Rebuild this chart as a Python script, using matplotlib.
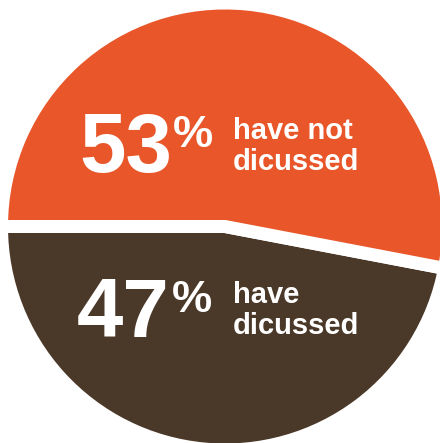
import matplotlib
matplotlib.use("Agg")
import matplotlib.pyplot as plt

# Share of respondents
labels = ["have\ndicussed", "have not\ndicussed"]
values = [47, 53]
colors = ["#4A3828", "#E8562A"]

W, H = 440, 443
fig = plt.figure(figsize=(W / 100, H / 100), dpi=100)
ax = fig.add_axes([0, 0, 1, 1])
ax.set_xlim(0, W)
ax.set_ylim(0, H)
ax.axis("off")

cx, cy = 225, H - 226.5
gap_px = 13
radius = 217 + gap_px / 2

ax.pie(values, colors=colors, startangle=180, counterclock=True,
       center=(cx, cy), radius=radius, frame=True,
       wedgeprops=dict(edgecolor="white", linewidth=gap_px * 72 / 100))
ax.set_xlim(0, W)
ax.set_ylim(0, H)
ax.axis("off")

font = "Liberation Sans"

def y(v):
    return H - v

# Big percentage, superscript % sign and two-line caption for each slice
positions = [
    # (number x, number baseline, % x, % baseline, caption x, first line baseline)
    (77, 337, 172, 312, 233, 303),
    (79, 172, 173, 147, 233, 139),
]
for val, lab, (nx, nb, px, pb, tx, tb) in zip(values, labels, positions):
    ax.text(nx, y(nb), f"{val}", color="white", fontsize=60, fontweight="bold",
            family=font, ha="left", va="baseline")
    ax.text(px, y(pb), "%", color="white", fontsize=32.5, fontweight="bold",
            family=font, ha="left", va="baseline")
    for i, line in enumerate(lab.split("\n")):
        ax.text(tx, y(tb + 31 * i), line, color="white", fontsize=21,
                fontweight="bold", family=font, ha="left", va="baseline")

fig.savefig("out.png", dpi=100, facecolor="white")
